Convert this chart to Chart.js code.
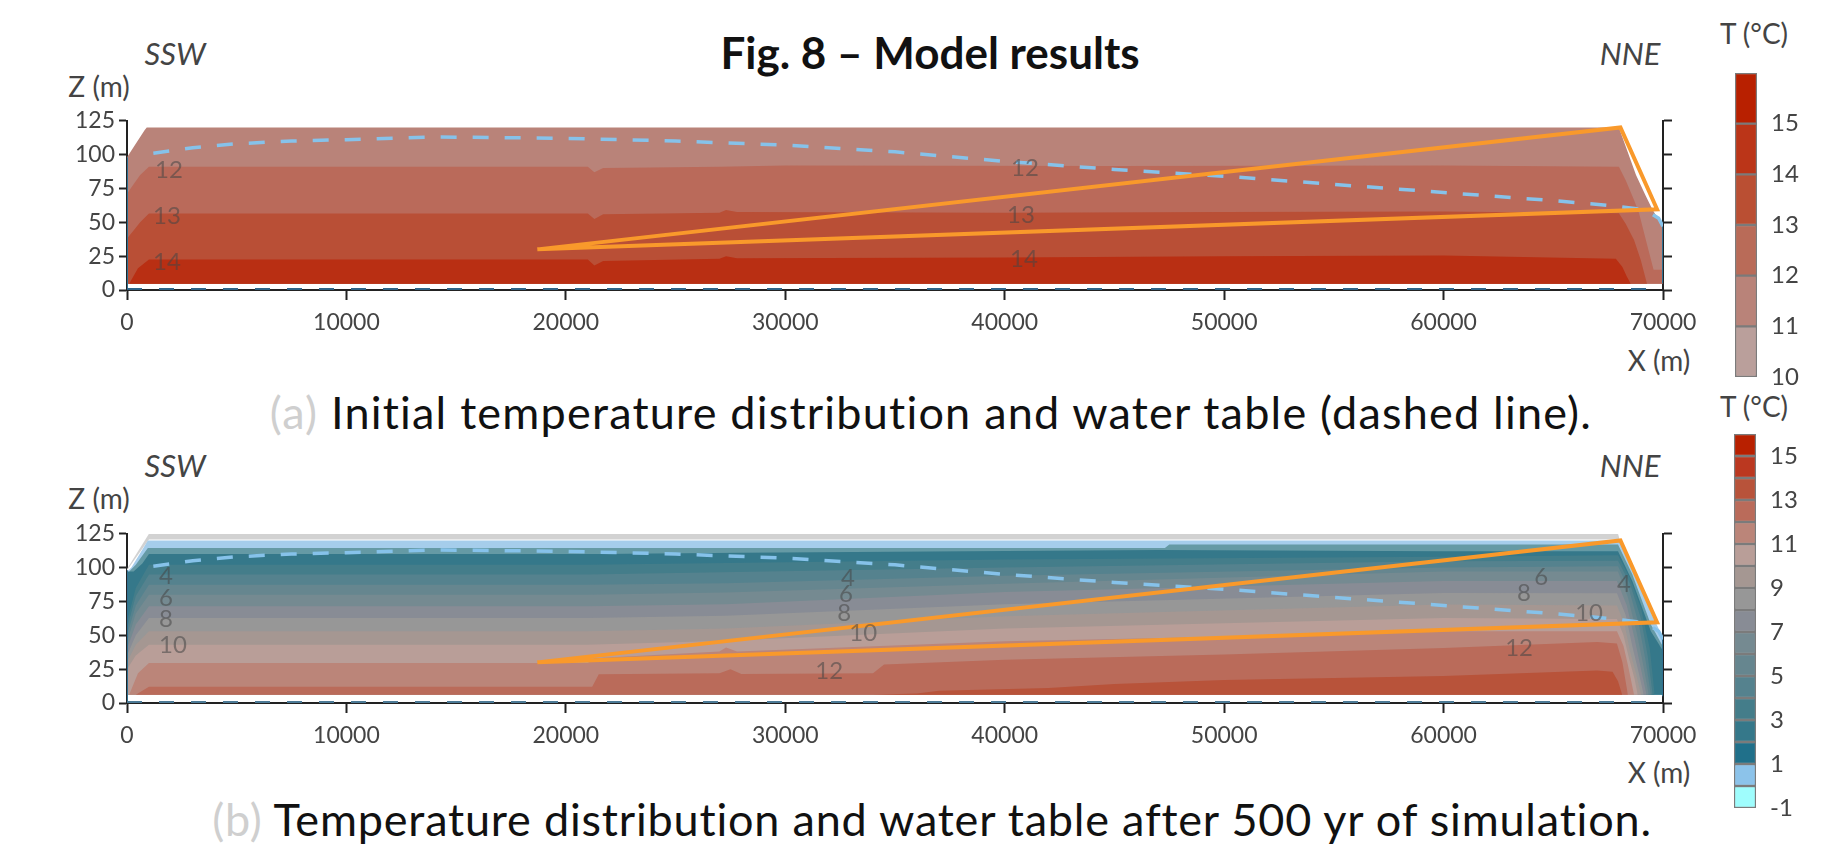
<!DOCTYPE html>
<html>
<head>
<meta charset="utf-8">
<script src="https://cdn.jsdelivr.net/npm/chart.js@4"></script>
<style>
  html, body { margin: 0; padding: 0; background: #fff; overflow: hidden; }
  #page { position: relative; width: 1829px; height: 846px; }
  canvas { position: absolute; }
  .t { position: absolute; transform: translate(-50%, -50%); white-space: nowrap; font-family: Lato, sans-serif; color: #111; }
  .ax { font-size: 28px; color: #444; }
  .dir { font-style: italic; font-size: 31px; color: #444; }
  .cap { font-size: 45px; }
  .cap span { color: #cfcfcf; }
</style>
</head>
<body>
<div id="page">
  <div class="t" style="left:930px;top:52px;font-size:44px;font-weight:bold;">Fig. 8 – Model results</div>
  <div class="t dir" style="left:175px;top:53px;">SSW</div>
  <div class="t dir" style="left:1630px;top:53px;">NNE</div>
  <div class="t ax" style="left:99px;top:86px;">Z (m)</div>
  <div class="t ax" style="left:1659px;top:360px;">X (m)</div>
  <div class="t ax" style="left:1754px;top:33px;">T (°C)</div>
  <div class="t cap" style="left:931px;top:412px;letter-spacing:1.2px;"><span>(a)</span> Initial temperature distribution and water table (dashed line).</div>
  <div class="t dir" style="left:175px;top:465px;">SSW</div>
  <div class="t dir" style="left:1630px;top:465px;">NNE</div>
  <div class="t ax" style="left:99px;top:498px;">Z (m)</div>
  <div class="t ax" style="left:1659px;top:772px;">X (m)</div>
  <div class="t ax" style="left:1754px;top:406px;">T (°C)</div>
  <div class="t cap" style="left:932px;top:819px;letter-spacing:0.8px;"><span>(b)</span> Temperature distribution and water table after 500 yr of simulation.</div>
  <canvas id="plotA" style="left:0;top:100px;"></canvas>
  <canvas id="plotB" style="left:0;top:513px;"></canvas>
  <canvas id="barA" style="left:1735px;top:65px;"></canvas>
  <canvas id="barB" style="left:1734px;top:425px;"></canvas>
</div>
<script>
// axes
const xTicks = [0, 10000, 20000, 30000, 40000, 50000, 60000, 70000];
const zTicks = [0, 25, 50, 75, 100, 125];

// water table and the triangle, same in both panels
const waterX = [1200, 3000, 5000, 7500, 10000, 14000, 17000, 20000, 25000, 30000, 35000, 40000, 45000, 50000, 55000, 60000, 65000, 67500, 68800, 69400, 69800, 70000];
const waterZ = [101, 105, 108, 110, 111, 113, 112.5, 112, 110, 107, 102, 95, 89, 84, 78, 72, 66, 62.5, 60, 57, 53, 47];
const triX = [18700, 68060, 69730, 18700];
const triZ = [30, 120, 59.6, 30];

// panel a isotherms (top of each band)
const aTopX = [0, 200, 400, 600, 800, 900, 67990, 68770, 69200, 69530, 69800, 69990];
const aTopZ = [98, 103, 108, 113, 118, 120, 120, 85, 70, 59, 52, 47];
const a12X = [0, 300, 600, 1000, 21000, 21300, 21700, 27000, 30000, 45000, 60000, 67990, 68300, 68680, 68910, 69220, 69570, 69990];
const a12Z = [71, 78, 85, 91, 91, 87, 90, 91, 92, 91.5, 92, 91, 81, 66.5, 56.6, 37, 15, 15];
const a13X = [0, 300, 600, 1000, 21000, 21300, 21700, 27000, 27300, 27800, 40000, 50000, 60000, 67990, 68300, 68680, 68990, 69270];
const a13Z = [38, 44, 50, 56.5, 56.5, 52.5, 56, 57, 59, 57.5, 57, 57.5, 58, 56.6, 49, 37, 22, 4.7];
const a14X = [100, 500, 1000, 21000, 21300, 21700, 27000, 27300, 27800, 40000, 50000, 60000, 67850, 68150, 68350, 68530];
const a14Z = [4.7, 16, 22.6, 22.6, 18, 21.5, 23, 25, 23.5, 24, 25, 25.5, 23, 17, 10, 4.7];

// panel b isotherms, cold to warm
const bGreyX = [0, 1000, 67950, 68020];
const bGreyZ = [99, 125, 125, 121];
const bWhiteX = [0, 1000, 68000];
const bWhiteZ = [98, 120.8, 120.8];
const bBlueX = [0, 200, 500, 950, 68000, 68500, 69000, 69500, 69800, 70000];
const bBlueZ = [97, 100, 108, 120, 120, 103, 85, 65, 55, 46];
const bTealX = [100, 400, 950, 47300, 47500, 67950, 68600, 69446, 69984];
const bTealZ = [97, 102, 114.5, 114.5, 117, 117, 95, 58, 42];
const iso0X = [0, 300, 700, 1000, 21000, 21500, 28000, 47000, 60000, 67950, 68600, 69446, 69984];
const iso0Z = [97, 97, 103, 110, 110, 110, 111, 113, 112, 112, 90, 53, 39];
const iso1X = [0, 400, 1000, 21000, 40000, 60000, 67950, 68500, 69000, 69400, 69620];
const iso1Z = [60, 85, 102, 102, 106, 108, 109, 92, 70, 40, 6];
const iso2X = [0, 400, 1000, 21000, 40000, 60000, 67950, 68500, 69000, 69300, 69530];
const iso2Z = [55, 79, 94.8, 94.8, 100, 104.7, 105, 88, 62, 35, 6];
const iso3X = [0, 400, 1000, 21000, 27300, 40000, 60000, 67950, 68450, 68900, 69200, 69450];
const iso3Z = [50, 72, 87.4, 87.4, 88.5, 94, 100, 101, 84, 58, 32, 6];
const iso4X = [0, 400, 1000, 21000, 27300, 40000, 60000, 67950, 68400, 68800, 69100, 69350];
const iso4Z = [45, 66, 80, 80, 81.5, 88, 97, 97, 78, 52, 28, 6];
const iso5X = [0, 400, 1000, 21000, 27300, 40000, 60000, 67900, 68350, 68700, 69000, 69250];
const iso5Z = [40, 58, 71.5, 71.5, 73, 82, 90, 90, 72, 48, 25, 6];
const iso6X = [0, 400, 1000, 21000, 27300, 40000, 60000, 67900, 68300, 68600, 68900, 69120];
const iso6Z = [35, 50, 62.8, 62.8, 64.5, 73, 81.3, 81, 65, 42, 22, 6];
const iso7X = [0, 400, 1000, 21000, 27300, 40000, 60000, 67900, 68250, 68500, 68800, 69000];
const iso7Z = [30, 43, 53, 53, 55, 64, 72.7, 72, 58, 38, 20, 6];
const iso8X = [0, 400, 1000, 21000, 27300, 40000, 60000, 67900, 68200, 68450, 68700, 68850];
const iso8Z = [25, 35, 43, 43, 46, 55, 62.8, 62, 50, 33, 18, 6];
const iso9X = [100, 500, 1000, 21000, 21300, 27000, 27300, 27800, 40000, 50000, 60000, 67900, 68200, 68400, 68680];
const iso9Z = [6, 22, 29.6, 29.6, 33, 38, 41, 38, 45.5, 49, 53, 53, 42, 28, 6];
const iso10X = [400, 700, 1000, 21000, 21200, 21500, 27000, 27500, 28000, 34000, 34500, 40000, 50000, 60000, 67000, 67900, 68150, 68400];
const iso10Z = [6, 9, 12, 12, 12, 21.3, 22, 25, 21.5, 22, 28.4, 31.9, 35.8, 40.6, 45, 44, 30, 6];
const iso11X = [34000, 36000, 37000, 42000, 45000, 50000, 60000, 67000, 67700, 67950, 68140];
const iso11Z = [6, 7, 9, 11, 14, 17, 20, 24, 23, 16, 6];

// colour bars
const cellsA = [[10, 11], [11, 12], [12, 13], [13, 14], [14, 15], [15, 16]];
const cellsAColors = ['#ba9f9b', '#b98379', '#b96b58', '#ba4f33', '#bb3518', '#b82000'];
const ticksA = [10, 11, 12, 13, 14, 15];
const cellsB = [[-1, 0], [0, 1], [1, 2], [2, 3], [3, 4], [4, 5], [5, 6], [6, 7], [7, 8], [8, 9], [9, 10], [10, 11], [11, 12], [12, 13], [13, 14], [14, 15], [15, 16]];
const cellsBColors = ['#9ffdfd', '#8cc3ea', '#20708a', '#35788a', '#447d8a', '#55828e', '#66868f', '#758a91', '#888c95', '#979797', '#a59792', '#b99e98', '#bb8579', '#ba6b5a', '#b8533a', '#bb3820', '#b82000'];
const ticksB = [-1, 1, 3, 5, 7, 9, 11, 13, 15];

// contour labels
const labelsA = [['12', 1914, 88.6], ['13', 1823, 54.6], ['14', 1823, 20.7], ['12', 40925, 90], ['13', 40740, 55.4], ['14', 40880, 23]];
const labelsB = [['4', 1777, 93.6], ['6', 1777, 77.6], ['8', 1777, 61.7], ['10', 2096, 42.6], ['4', 32860, 92.3], ['6', 32770, 80], ['8', 32680, 66.5], ['10', 33550, 51.7], ['12', 32000, 23.4], ['6', 64450, 93], ['8', 63660, 81], ['10', 66630, 66], ['12', 63440, 40.4], ['4', 68220, 88]];

const tickFont = { family: 'Lato, sans-serif', size: 23 };
const barFont = { family: 'Lato, sans-serif', size: 24 };
const pts = (xs, zs) => xs.map((x, i) => ({ x: x, y: zs[i] }));

function banda(xs, zs, cor, base) {
    return { data: pts(xs, zs), backgroundColor: cor, borderWidth: 0, pointRadius: 0, fill: { value: base }, tension: 0 };
}

function linha(xs, zs, cor, larg, dash) {
    return { data: pts(xs, zs), borderColor: cor, borderWidth: larg, borderDash: dash || [], pointRadius: 0, fill: false, tension: 0 };
}

const textosContorno = {
    id: 'textosContorno',
    afterDatasetsDraw(chart, args, opts) {
        const ctx = chart.ctx;
        ctx.save();
        ctx.font = '24px Lato, sans-serif';
        ctx.fillStyle = 'rgba(70,70,70,0.55)';
        ctx.textAlign = 'center';
        ctx.textBaseline = 'middle';
        opts.itens.forEach(l => ctx.fillText(l[0], chart.scales.x.getPixelForValue(l[1]), chart.scales.y.getPixelForValue(l[2])));
        ctx.restore();
    }
};

const semPadding = s => { s.paddingTop = 0; s.paddingBottom = 0; };

function criarPainel(id, bandas, itens, corBase) {
    const el = document.getElementById(id);
    el.width = 1829;
    el.height = 280;
    el.style.width = '1829px';
    el.style.height = '280px';
    const overlays = [
        linha(triX, triZ, '#f9992b', 4),
        linha(waterX, waterZ, '#86c2ea', 3.5, [16, 16]),
        linha([0, 70000], [0, 0], corBase, 4, [15, 17]),
        linha([0, 0], [0, 98], '#2f6f90', 2),
        linha([70000, 70000], [5, 47], '#2f6f90', 2)
    ];
    return new Chart(el, {
        type: 'line',
        data: { datasets: overlays.concat(bandas) },
        plugins: [textosContorno],
        options: {
            responsive: false,
            animation: false,
            layout: { padding: { top: 20.7, left: 0, right: 0, bottom: 0 } },
            plugins: { legend: { display: false }, tooltip: { enabled: false }, textosContorno: { itens: itens } },
            scales: {
                x: {
                    type: 'linear', min: 0, max: 70000,
                    afterBuildTicks: s => { s.ticks = xTicks.map(v => ({ value: v })); },
                    afterFit: s => { s.height = 90; },
                    border: { color: '#222', width: 2 },
                    grid: { drawOnChartArea: false, tickLength: 10, tickColor: '#222', tickWidth: 2 },
                    ticks: { color: '#444', font: tickFont, padding: 9, maxRotation: 0, autoSkip: false, callback: v => String(v) }
                },
                y: {
                    type: 'linear', min: 0, max: 125, position: 'left',
                    afterBuildTicks: s => { s.ticks = zTicks.map(v => ({ value: v })); },
                    afterFit: s => { s.width = 127; semPadding(s); },
                    border: { color: '#222', width: 2 },
                    grid: { drawOnChartArea: false, tickLength: 8, tickColor: '#222', tickWidth: 2 },
                    ticks: { color: '#444', font: tickFont, padding: 4, autoSkip: false, callback: v => String(v) }
                },
                y2: {
                    type: 'linear', min: 0, max: 125, position: 'right',
                    afterBuildTicks: s => { s.ticks = zTicks.map(v => ({ value: v })); },
                    afterFit: s => { s.width = 166; semPadding(s); },
                    border: { color: '#222', width: 2 },
                    grid: { drawOnChartArea: false, tickLength: 9, tickColor: '#222', tickWidth: 2 },
                    ticks: { display: false, autoSkip: false }
                }
            }
        }
    });
}

function criarBarra(id, celulas, cores, ticks, minV, topPad, altura) {
    const el = document.getElementById(id);
    el.width = 94;
    el.height = altura;
    el.style.width = '94px';
    el.style.height = altura + 'px';
    return new Chart(el, {
        type: 'bar',
        data: {
            labels: ['T'],
            datasets: celulas.map((c, i) => ({
                data: [c], backgroundColor: cores[i], borderColor: '#7b7b7b', borderWidth: 1.5,
                grouped: false, barPercentage: 1, categoryPercentage: 1, borderSkipped: false
            }))
        },
        options: {
            responsive: false,
            animation: false,
            layout: { padding: { top: topPad, bottom: 12, left: 0, right: 0 } },
            plugins: { legend: { display: false }, tooltip: { enabled: false } },
            scales: {
                x: { display: false },
                y: {
                    position: 'right', min: minV, max: 16,
                    afterBuildTicks: s => { s.ticks = ticks.map(v => ({ value: v })); },
                    afterFit: s => { s.width = 72; semPadding(s); },
                    border: { display: false },
                    grid: { display: false },
                    ticks: { color: '#444', font: barFont, padding: 6, autoSkip: false, callback: v => String(v) }
                }
            }
        }
    });
}

// bands are listed front to back, Chart.js paints the last dataset first
criarPainel('plotA', [
    banda(a14X, a14Z, '#b92f13', 4.7),
    banda(a13X, a13Z, '#b94f36', 4.7),
    banda(a12X, a12Z, '#ba6a5a', 4.7),
    banda(aTopX, aTopZ, '#b98379', 4.7)
], labelsA, '#2f6488');

criarPainel('plotB', [
    banda(iso11X, iso11Z, '#b8533a', 6),
    banda(iso10X, iso10Z, '#ba6b5a', 6),
    banda(iso9X, iso9Z, '#bb8579', 6),
    banda(iso8X, iso8Z, '#b99e98', 6),
    banda(iso7X, iso7Z, '#a59792', 6),
    banda(iso6X, iso6Z, '#979797', 6),
    banda(iso5X, iso5Z, '#888c95', 6),
    banda(iso4X, iso4Z, '#758a91', 6),
    banda(iso3X, iso3Z, '#66868f', 6),
    banda(iso2X, iso2Z, '#55828e', 6),
    banda(iso1X, iso1Z, '#447d8a', 6),
    banda(iso0X, iso0Z, '#35788a', 6),
    banda(bTealX, bTealZ, '#659aa5', 6),
    banda(bBlueX, bBlueZ, '#a5cdeb', 6),
    banda(bWhiteX, bWhiteZ, '#ffffff', 6),
    banda(bGreyX, bGreyZ, '#d2d2d2', 6)
], labelsB, '#4c7a96');

criarBarra('barA', cellsA, cellsAColors, ticksA, 10, 8, 324);
criarBarra('barB', cellsB, cellsBColors, ticksB, -1, 9, 395);
</script>
</body>
</html>
